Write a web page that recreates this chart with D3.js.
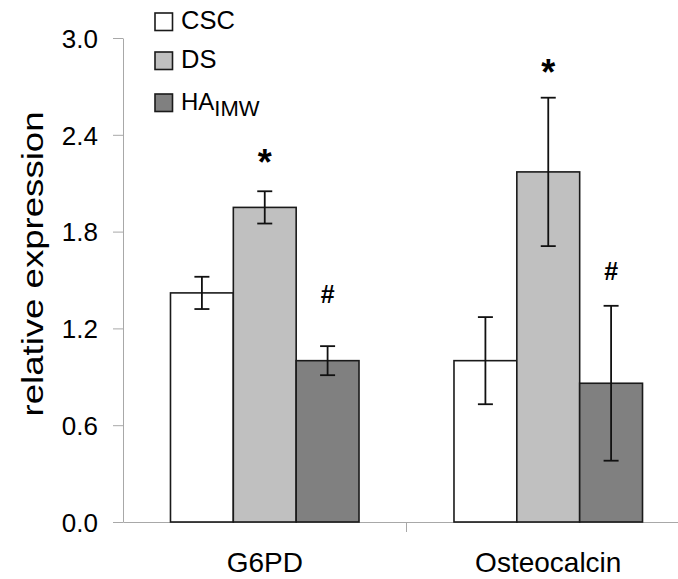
<!DOCTYPE html>
<html>
<head>
<meta charset="utf-8">
<script src="https://cdn.jsdelivr.net/npm/d3@7"></script>
<style>
  html, body { margin: 0; padding: 0; background: #fff; }
  svg { display: block; font-family: "Liberation Sans", Arial, sans-serif; }
</style>
</head>
<body>
<svg id="chart" width="678" height="579"></svg>
<script>
// Genes on the x axis and the three treatment groups
const categories = ["G6PD", "Osteocalcin"];
const seriesNames = ["CSC", "DS", "HA"];
const seriesColors = ["#ffffff", "#c0c0c0", "#808080"];

// Mean relative expression per gene, one array per treatment
const cscValues = [1.42, 1.0];
const dsValues = [1.95, 2.17];
const haValues = [1.0, 0.86];

// Error bar half-widths
const cscErrors = [0.10, 0.27];
const dsErrors = [0.10, 0.46];
const haErrors = [0.09, 0.48];

// Y axis ticks
const yTicks = [0.0, 0.6, 1.2, 1.8, 2.4, 3.0];

// Significance marks: gene, series, symbol, level (in axis units) of the symbol baseline
const marks = [
  { cat: "G6PD", series: "DS", label: "*", at: 2.15 },
  { cat: "G6PD", series: "HA", label: "#", at: 1.36 },
  { cat: "Osteocalcin", series: "DS", label: "*", at: 2.71 },
  { cat: "Osteocalcin", series: "HA", label: "#", at: 1.50 }
];

const values = [cscValues, dsValues, haValues];
const errors = [cscErrors, dsErrors, haErrors];
const rows = [];
seriesNames.forEach((s, si) => {
  categories.forEach((c, ci) => {
    rows.push({ series: s, cat: c, value: values[si][ci], err: errors[si][ci], color: seriesColors[si] });
  });
});

const svg = d3.select("#chart");
const plotLeft = 123, plotRight = 690, plotTop = 38, plotBottom = 522;

const x0 = d3.scaleBand().domain(categories).range([plotLeft, plotRight]).padding(0);
const groupFrac = 0.665;
const x1 = d3.scaleBand().domain(seriesNames)
  .range([x0.bandwidth() * (1 - groupFrac) / 2, x0.bandwidth() * (1 + groupFrac) / 2]).padding(0);
const y = d3.scaleLinear().domain([0, 3]).range([plotBottom, plotTop]);

// Y axis
const yAxis = svg.append("g").attr("transform", `translate(${plotLeft},0)`)
  .call(d3.axisLeft(y).tickValues(yTicks).tickFormat(d3.format(".1f")).tickSize(10).tickSizeOuter(0));
yAxis.select(".domain").attr("stroke", "#a8a8a8").attr("stroke-width", 1);
yAxis.selectAll(".tick line").attr("stroke", "#a8a8a8");
yAxis.selectAll(".tick text").attr("font-size", 26).attr("fill", "#000")
  .attr("font-family", "Liberation Sans, Arial, sans-serif").attr("x", -25).attr("dy", "0.36em");

// X axis baseline with a divider tick between genes
const xAxis = svg.append("g").attr("transform", `translate(0,${plotBottom})`)
  .call(d3.axisBottom(x0).tickSize(0).tickSizeOuter(0));
xAxis.select(".domain").attr("stroke", "#a8a8a8").attr("stroke-width", 1);
xAxis.selectAll(".tick text").attr("font-size", 28).attr("fill", "#000")
  .attr("font-family", "Liberation Sans, Arial, sans-serif").attr("y", 50).attr("dy", 0);
xAxis.append("line")
  .attr("x1", x0("Osteocalcin")).attr("x2", x0("Osteocalcin"))
  .attr("y1", 0).attr("y2", 10).attr("stroke", "#a8a8a8");

// Bars
svg.append("g").selectAll("rect").data(rows).join("rect")
  .attr("x", d => x0(d.cat) + x1(d.series))
  .attr("y", d => y(d.value))
  .attr("width", x1.bandwidth())
  .attr("height", d => y(0) - y(d.value))
  .attr("fill", d => d.color)
  .attr("stroke", "#1a1a1a")
  .attr("stroke-width", 1.6);

// Error bars
const capHalf = 7.5;
const eb = svg.append("g").attr("stroke", "#111").attr("stroke-width", 1.8);
rows.forEach(d => {
  const cx = x0(d.cat) + x1(d.series) + x1.bandwidth() / 2;
  const yt = y(d.value + d.err), yb = y(d.value - d.err);
  eb.append("line").attr("x1", cx).attr("x2", cx).attr("y1", yt).attr("y2", yb);
  eb.append("line").attr("x1", cx - capHalf).attr("x2", cx + capHalf).attr("y1", yt).attr("y2", yt);
  eb.append("line").attr("x1", cx - capHalf).attr("x2", cx + capHalf).attr("y1", yb).attr("y2", yb);
});

// Significance symbols
svg.append("g").selectAll("text").data(marks).join("text")
  .attr("x", d => x0(d.cat) + x1(d.series) + x1.bandwidth() / 2)
  .attr("y", d => y(d.at))
  .attr("text-anchor", "middle")
  .attr("font-weight", "bold")
  .attr("font-size", d => d.label === "*" ? 36 : 25)
  .attr("fill", "#000")
  .text(d => d.label);

// Y axis title
svg.append("text")
  .attr("transform", "translate(43,264) rotate(-90)")
  .attr("text-anchor", "middle")
  .attr("font-size", 30)
  .attr("textLength", 305)
  .attr("lengthAdjust", "spacingAndGlyphs")
  .attr("fill", "#000")
  .text("relative expression");

// Legend
const legend = svg.append("g");
const legendY = [13, 52, 94];
seriesNames.forEach((s, i) => {
  legend.append("rect")
    .attr("x", 155).attr("y", legendY[i]).attr("width", 17.5).attr("height", 17.5)
    .attr("fill", seriesColors[i]).attr("stroke", "#1a1a1a").attr("stroke-width", 1.6);
  const t = legend.append("text")
    .attr("x", 181).attr("y", legendY[i] + 16)
    .attr("font-size", s === "HA" ? 24 : 25.5).attr("fill", "#000");
  if (s === "HA") {
    t.append("tspan").text("HA");
    t.append("tspan").attr("font-size", 22).attr("dy", 6).text("IMW");
  } else {
    t.text(s);
  }
});
</script>
</body>
</html>
